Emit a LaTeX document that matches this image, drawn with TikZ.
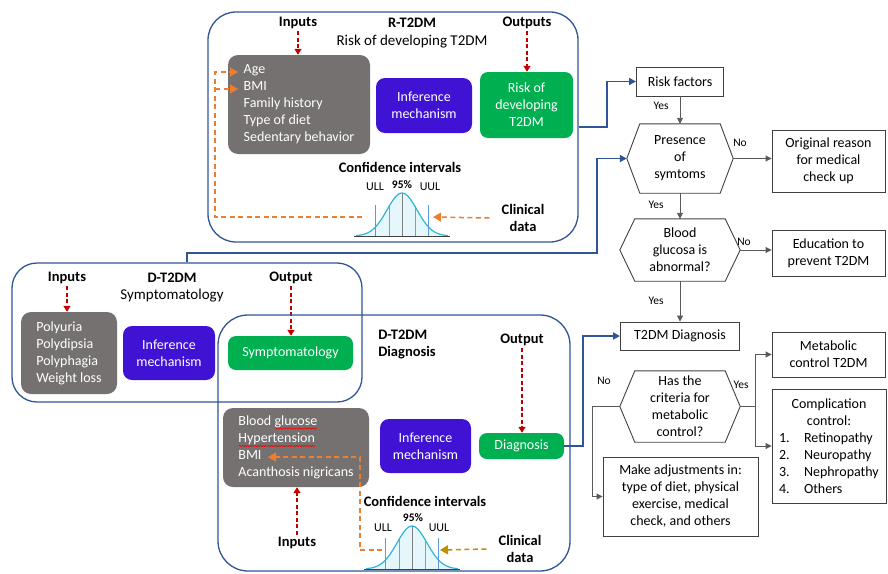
\documentclass[tikz,border=0pt]{standalone}
\usepackage{fontspec}
\setmainfont{Carlito}
\usetikzlibrary{arrows.meta,calc,decorations.pathmorphing}
\definecolor{pblue}{HTML}{2F5597}
\definecolor{bgray}{HTML}{767171}
\definecolor{iblue}{HTML}{3F12D4}
\definecolor{ogreen}{HTML}{00B050}
\definecolor{dred}{HTML}{C00000}
\definecolor{orng}{HTML}{ED7D31}
\definecolor{goldc}{HTML}{C09000}
\definecolor{fgray}{HTML}{404040}
\definecolor{lgray}{HTML}{595959}
\definecolor{bellc}{HTML}{2DB6D6}
\definecolor{bellf}{HTML}{E6F7FC}
\definecolor{ulblue}{HTML}{5B9BD5}
\begin{document}
\begin{tikzpicture}[x=1pt,y=-1pt,
  every node/.style={font=\fontsize{14}{17}\selectfont, inner sep=2pt},
  panel/.style={draw=pblue, line width=1.3pt, rounded corners=28pt, inner sep=0pt},
  gbox/.style={fill=bgray, text=white, rounded corners=10pt, align=left},
  ibox/.style={fill=iblue, text=white, rounded corners=9pt, align=center},
  obox/.style={fill=ogreen, text=white, rounded corners=8pt, align=center},
  ttl/.style={font=\bfseries\fontsize{14.5}{17}\selectfont, align=center},
  subt/.style={font=\fontsize{15}{18}\selectfont},
  fbox/.style={draw=fgray, line width=0.9pt, align=center},
  hexn/.style={align=center, inner sep=0pt},
  hexl/.style={fgray, line width=0.9pt},
  redar/.style={dred, line width=1.3pt, dash pattern=on 4pt off 2.5pt, -{Triangle[width=7pt,length=6pt]}},
  orar/.style={orng, line width=1.5pt, dash pattern=on 5pt off 3.5pt},
  goar/.style={goldc, line width=1.5pt, dash pattern=on 5pt off 3.5pt},
  bigtip/.style={-{Triangle[width=9pt,length=8pt]}},
  flow/.style={lgray, line width=0.9pt, -{Triangle[width=6pt,length=6pt]}},
  bcon/.style={pblue, line width=1.8pt, -{Triangle[width=7pt,length=7pt]}},
  lbl/.style={font=\fontsize{11.5}{13}\selectfont},
  sml/.style={font=\fontsize{12}{14}\selectfont},
  smb/.style={font=\bfseries\fontsize{11.5}{13}\selectfont},
  squig/.style={red, line width=0.6pt, decorate, decoration={snake, amplitude=0.7pt, segment length=2.6pt}},
  bell/.pic={
    \fill[bellf] (-46,0) -- plot[domain=-46:46,samples=61] (\x,{-43*exp(-0.5*(\x/15)*(\x/15))}) -- (46,0) -- cycle;
    \foreach \u in {-13,13} \draw[gray!80, line width=0.8pt] (\u,0) -- (\u,{-43*exp(-0.5*(\u/15)*(\u/15))});
    \draw[gray, line width=0.8pt] (0,0) -- (0,-43);
    \draw[bellc, line width=1.2pt] plot[domain=-46:46,samples=61] (\x,{-43*exp(-0.5*(\x/15)*(\x/15))});
    \foreach \u in {-26.5,26.5} \draw[ulblue, line width=0.9pt] (\u,0) -- (\u,-31);
    \draw[fgray, line width=1pt] (-48,0) -- (48,0);
  }]
\useasboundingbox (0,0) rectangle (888,573);

% ---------- R-T2DM panel ----------
\node[panel, minimum width=370, minimum height=230] (P1) at (393,127) {};
\node[ttl] (in1) at (298,23) {Inputs};
\node[ttl] (rt) at (412,23) {R-T2DM};
\node[ttl] (out1) at (527,23) {Outputs};
\node[subt] (rs) at (412,42) {Risk of developing T2DM};
\node[gbox, minimum width=142, minimum height=99] (gb1) at (299,104.5) {Age\\BMI\\Family history\\Type of diet\\Sedentary behavior};
\node[ibox, minimum width=96, minimum height=55] (ib1) at (424,105.5) {Inference\\mechanism};
\node[obox, minimum width=93, minimum height=66] (ob1) at (526.5,105) {Risk of\\developing\\T2DM};
\draw[redar] (in1.south) -- (in1.south |- gb1.north);
\draw[redar] (out1.south) -- (out1.south |- ob1.north);
\node[ttl] (ci1) at (400,167) {Confidence intervals};
\node[ttl] (cd1) at (523,218) {Clinical\\data};
\pic at (402,236) {bell};
\node[sml] (ull1) at (375,187) {ULL};
\node[smb] (p951) at (402,185) {95\%};
\node[sml] (uul1) at (430,187) {UUL};
\coordinate (a1) at (238,72);
\coordinate (a2) at (238,89);
\coordinate (o1) at (215,217);
\coordinate (o2) at (215,89);
\coordinate (b1l) at (362,217);
\coordinate (b1r) at (433,217);
\draw[orar, bigtip] (b1l) -- (o1) |- (a1);
\draw[orar, bigtip] (o2) -- (a2);
\draw[orar, bigtip] ([xshift=-10pt]cd1.west) -- (b1r);

% ---------- D-T2DM Symptomatology panel ----------
\node[panel, rounded corners=25pt, minimum width=350, minimum height=139] (P2) at (187,332.5) {};
\node[ttl] (in2) at (67,278) {Inputs};
\node[ttl] (dt) at (172,278) {D-T2DM};
\node[ttl] (out2) at (291,278) {Output};
\node[subt] (st) at (172,296) {Symptomatology};
\node[gbox, minimum width=96, minimum height=82] (gb2) at (69,353) {Polyuria\\Polydipsia\\Polyphagia\\Weight loss};
\node[ibox, minimum width=92, minimum height=54] (ib2) at (169,353) {Inference\\mechanism};
\node[obox, minimum width=125, minimum height=34] (ob2) at (290.5,353) {Symptomatology};
\draw[redar] (in2.south) -- (in2.south |- gb2.north);
\draw[redar] (out2.south) -- (out2.south |- ob2.north);

% ---------- D-T2DM Diagnosis panel ----------
\node[panel, rounded corners=30pt, minimum width=352, minimum height=256] (P3) at (394,443) {};
\node[ttl, align=left] (dd) at (407,344) {D-T2DM\\Diagnosis};
\node[ttl] (out3) at (522,340) {Output};
\node[gbox, minimum width=146, minimum height=79] (gb3) at (296,447.5) {Blood glucose\\Hypertension\\BMI\\Acanthosis nigricans};
\draw[squig] (275,428.5) -- (317,428.5);
\draw[squig] (239,446) -- (315,446);
\node[ibox, minimum width=91, minimum height=54] (ib3) at (425.5,446) {Inference\\mechanism};
\node[obox, minimum width=85, minimum height=26] (dg) at (521.5,446) {Diagnosis};
\draw[redar] (out3.south) -- (out3.south |- dg.north);
\node[ttl] (in3) at (297,543) {Inputs};
\draw[redar] (in3.north) -- (in3.north |- gb3.south);
\node[ttl] (ci2) at (425,501) {Confidence intervals};
\node[ttl] (cd2) at (520,549) {Clinical\\data};
\pic at (412,569) {bell};
\node[sml] (ull2) at (383,528) {ULL};
\node[smb] (p952) at (413,518) {95\%};
\node[sml] (uul2) at (439,528) {UUL};
\coordinate (bm2) at (268,457);
\coordinate (o4) at (360,457);
\coordinate (o5) at (360,550);
\coordinate (b2l) at (382,550);
\coordinate (b2r) at (440,550);
\draw[orar, bigtip] (b2l) -- (o5) -- (o4) -- (bm2);
\draw[goar, bigtip] ([xshift=-10pt]cd2.west) -- (b2r);

% ---------- Flowchart ----------
\node[fbox, minimum width=87, minimum height=29] (rf) at (680,81.5) {Risk factors};
\node[hexn, minimum width=106, minimum height=69] (h1) at (680,158.5) {Presence\\of\\symtoms};
\node[hexn, minimum width=120, minimum height=62] (h2) at (680,250) {Blood\\glucosa is\\abnormal?};
\node[fbox, minimum width=119, minimum height=28] (td) at (680,336) {T2DM Diagnosis};
\node[hexn, minimum width=120, minimum height=71] (h3) at (680,406.5) {Has the\\criteria for\\metabolic\\control?};
\node[fbox, minimum width=113, minimum height=62] (orr) at (828.5,161) {Original reason\\for medical\\check up};
\node[fbox, minimum width=113, minimum height=46] (ed) at (828.5,253) {Education to\\prevent T2DM};
\node[fbox, minimum width=113, minimum height=45] (mc) at (828.5,354.5) {Metabolic\\control T2DM};
\node[fbox, align=left, minimum width=114, minimum height=114, inner sep=1pt] (cc) at (829,446) {\makebox[100pt][c]{Complication}\\\makebox[100pt][c]{control:}\\\makebox[25pt][l]{1.}Retinopathy\\\makebox[25pt][l]{2.}Neuropathy\\\makebox[25pt][l]{3.}Nephropathy\\\makebox[25pt][l]{4.}Others};
\node[fbox, minimum width=155, minimum height=79] (ma) at (680.5,496.5) {Make adjustments in:\\type of diet, physical\\exercise, medical\\check, and others};
\foreach \n/\d in {h1/13,h2/15,h3/15}
  \draw[hexl] (\n.west) -- ($(\n.north west)+(\d,0)$) -- ($(\n.north east)+(-\d,0)$) -- (\n.east) -- ($(\n.south east)+(-\d,0)$) -- ($(\n.south west)+(\d,0)$) -- cycle;

\draw[flow] (rf.south) -- (h1.north);
\draw[flow] (h1.south) -- (h2.north);
\draw[flow] (h2.south) -- (td.north);
\draw[flow] (h1.east) -- (orr.west |- h1.east);
\draw[flow] (h2.east) -- (ed.west |- h2.east);
\coordinate (j4) at (755,406.5);
\coordinate (j5) at (592,406.5);
\draw[flow] (h3.east) -- (j4) |- (mc.west);
\draw[flow] (j4) |- (cc.west);
\draw[flow] (h3.west) -- (j5) |- (ma.west);

\node[lbl] (y1) at (661,106) {Yes};
\node[lbl] (n1) at (740,143) {No};
\node[lbl] (y2) at (656,205) {Yes};
\node[lbl] (n2) at (744,242) {No};
\node[lbl] (y3) at (656,301) {Yes};
\node[lbl] (n3) at (604,381) {No};
\node[lbl] (y4) at (741,385) {Yes};

% ---------- Blue connectors ----------
\coordinate (j1) at (607,127);
\coordinate (j2) at (597,253);
\coordinate (j3) at (583,446);
\draw[bcon] (P1.east) -- (j1) |- (rf.west);
\draw[bcon] (P2.north) |- (j2) |- (h1.west);
\draw[bcon] (dg.east) -- (j3) |- (td.west);
\end{tikzpicture}
\end{document}
